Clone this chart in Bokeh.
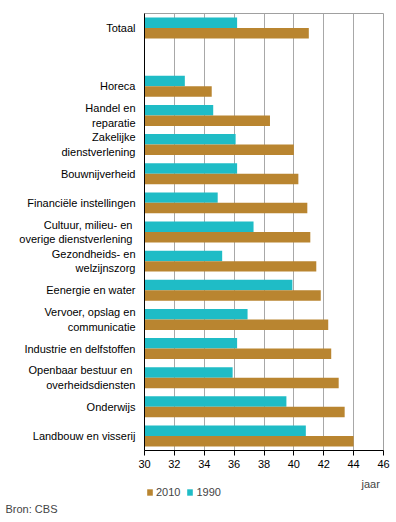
from bokeh.plotting import figure
from bokeh.layouts import column
from bokeh.models import FactorRange, Range1d, Label, Legend, LegendItem, ColumnDataSource, FixedTicker, Title
from bokeh.transform import dodge
from bokeh.embed import file_html
from bokeh.resources import INLINE

categories = ["Totaal", " ", "Horeca", "Handel en\nreparatie", "Zakelijke\ndienstverlening",
              "Bouwnijverheid", "Financiële instellingen",
              "Cultuur, milieu- en \noverige dienstverlening ", "Gezondheids- en\nwelzijnszorg",
              "Eenergie en water", "Vervoer, opslag en\ncommunicatie", "Industrie en delfstoffen",
              "Openbaar bestuur en \noverheidsdiensten", "Onderwijs", "Landbouw en visserij"]
values_1990 = [36.2, None, 32.7, 34.6, 36.1, 36.2, 34.9, 37.3, 35.2, 39.9, 36.9, 36.2, 35.9, 39.5, 40.8]
values_2010 = [41.0, None, 34.5, 38.4, 40.0, 40.3, 40.9, 41.1, 41.5, 41.8, 42.3, 42.5, 43.0, 43.4, 44.0]
x_ticks = [30, 32, 34, 36, 38, 40, 42, 44, 46]
series_labels = ["2010", "1990"]
unit_label = "jaar"
source_label = "Bron: CBS"

FONT = "Liberation Sans"
C2010 = "#b98530"
C1990 = "#1fbcc6"

rows = [(c, a, b) for c, a, b in zip(categories, values_1990, values_2010) if a is not None]
src = ColumnDataSource(dict(cat=[r[0] for r in rows],
                            v1990=[r[1] for r in rows],
                            v2010=[r[2] for r in rows]))

p = figure(width=396, height=473, output_backend="svg", toolbar_location=None,
           y_range=FactorRange(factors=list(reversed(categories))),
           x_range=Range1d(30, 46),
           min_border_left=144, min_border_right=13, min_border_top=13, min_border_bottom=23)

r1990 = p.hbar(y=dodge("cat", 0.18, range=p.y_range), left=30, right="v1990", height=0.36,
               source=src, fill_color=C1990, line_color=None)
r2010 = p.hbar(y=dodge("cat", -0.18, range=p.y_range), left=30, right="v2010", height=0.36,
               source=src, fill_color=C2010, line_color=None)

p.outline_line_color = "#a0a0a0"
p.ygrid.grid_line_color = None
p.xgrid.grid_line_color = "#a8a8a8"
p.xgrid.grid_line_width = 1
p.xaxis.ticker = FixedTicker(ticks=x_ticks)
p.xaxis.minor_tick_line_color = None
p.xaxis.major_tick_in = 0
p.xaxis.major_tick_out = 5
p.xaxis.axis_line_color = "black"
p.xaxis.major_tick_line_color = "black"
p.xaxis.major_label_standoff = 4
p.yaxis.major_tick_line_color = None
p.yaxis.major_tick_out = 0
p.yaxis.major_label_standoff = 9
p.yaxis.axis_line_color = "black"
for ax in (p.xaxis, p.yaxis):
    ax.major_label_text_font = FONT
    ax.major_label_text_font_size = "11px"
    ax.major_label_text_color = "black"

# footer: unit, legend and source; its frame lines up with the main frame (144..383)
f = figure(width=396, height=49, output_backend="svg", toolbar_location=None,
           x_range=Range1d(0, 1), y_range=Range1d(0, 1),
           min_border_left=144, min_border_right=13, min_border_top=0, min_border_bottom=22)
f.axis.visible = False
f.grid.visible = False
f.outline_line_color = None
d2010 = f.hbar(y=[0.5], left=[0], right=[0], height=0, fill_color=C2010, line_color=None)
d1990 = f.hbar(y=[0.5], left=[0], right=[0], height=0, fill_color=C1990, line_color=None)

f.add_layout(Label(x=217, y=17, x_units="screen", y_units="screen", text=unit_label,
                   text_font=FONT, text_font_size="11px", text_baseline="middle"))
legend = Legend(items=[LegendItem(label=series_labels[0], renderers=[d2010]),
                       LegendItem(label=series_labels[1], renderers=[d1990])],
                location=(2, 2), orientation="horizontal",
                glyph_width=7, glyph_height=8, label_standoff=3, spacing=6,
                padding=0, margin=0, border_line_color=None, background_fill_alpha=0,
                label_text_font=FONT, label_text_font_size="11px", label_height=8)
f.add_layout(legend, "center")
f.add_layout(Title(text=source_label, align="left", offset=-139, standoff=0,
                   text_font=FONT, text_font_size="11px", text_font_style="normal"), "below")

open("out.html", "w").write(file_html(column(p, f, spacing=0), INLINE))
